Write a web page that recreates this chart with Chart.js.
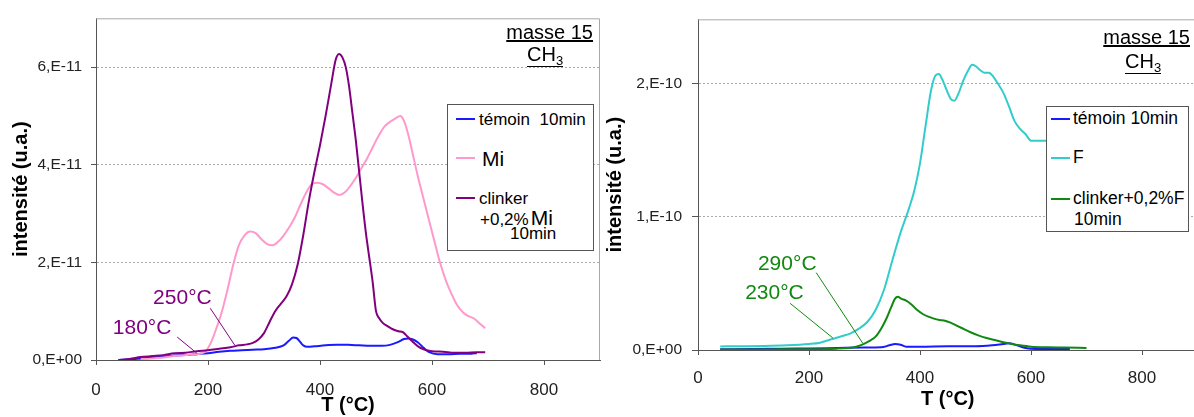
<!DOCTYPE html>
<html><head><meta charset="utf-8">
<script src="https://cdn.jsdelivr.net/npm/chart.js@4.4.1/dist/chart.umd.min.js"></script>
<style>
html,body{margin:0;padding:0;background:#fff;overflow:hidden;width:1194px;height:417px;}
#wrap{position:relative;width:1194px;height:417px;overflow:hidden;font-family:"Liberation Sans",Arial,sans-serif;}
canvas{position:absolute;top:0;}
.t{position:absolute;white-space:nowrap;color:#000;}
.lg{position:absolute;border:1px solid #555;background:#fff;box-sizing:border-box;}
.smp{position:absolute;height:2px;width:19px;}
.ul{border-bottom:1.5px solid #000;padding-bottom:1px;}
</style></head><body>
<div id="wrap">
<canvas id="c1" width="602" height="417" style="left:0px"></canvas>
<canvas id="c2" width="604" height="417" style="left:602px"></canvas>
</div>
<script>
// ---------- DATA (left chart, values in 1e-11) ----------
const leftXTicks = [0, 200, 400, 600, 800];
const leftYTicks = [0, 2, 4, 6];
const leftYTickLabels = ['0,E+00', '2,E-11', '4,E-11', '6,E-11'];
const leftSeriesNames = ['témoin 10min', 'Mi', 'clinker +0,2% Mi 10min'];

const tTemoinL = [40,60,80,100,120,140,160,180,200,220,240,260,280,300,320,335,345,352,358,364,370,378,390,410,430,450,470,490,510,525,540,550,558,566,575,585,595,610,630,650,670,680];
const vTemoinL = [0.0,0.01,0.03,0.05,0.07,0.09,0.1,0.12,0.14,0.17,0.19,0.2,0.21,0.22,0.25,0.3,0.4,0.46,0.45,0.38,0.3,0.27,0.28,0.3,0.31,0.31,0.3,0.29,0.29,0.31,0.37,0.43,0.44,0.42,0.36,0.25,0.16,0.12,0.12,0.13,0.13,0.14];

const tMi = [80,100,120,140,160,180,195,205,215,225,235,245,255,265,275,285,295,305,315,325,335,345,355,365,375,385,395,405,415,425,435,445,455,465,475,485,495,505,515,525,535,543,550,558,566,575,585,595,605,615,625,635,645,655,665,675,685,695];
const vMi = [0.02,0.03,0.05,0.08,0.1,0.12,0.17,0.35,0.65,1.0,1.45,1.95,2.35,2.55,2.63,2.6,2.48,2.38,2.35,2.42,2.55,2.72,2.92,3.18,3.42,3.6,3.63,3.6,3.52,3.43,3.38,3.44,3.58,3.75,3.95,4.15,4.38,4.6,4.78,4.88,4.95,5.0,4.9,4.6,4.2,3.75,3.3,2.85,2.4,1.97,1.62,1.35,1.12,0.98,0.9,0.85,0.75,0.65];

const tClinkerMi = [40,60,80,100,120,140,160,180,200,220,240,255,270,280,290,300,310,320,330,340,350,360,370,380,390,400,410,420,428,434,440,446,452,458,464,470,476,482,488,494,500,506,512,520,530,540,548,556,565,575,585,600,620,640,660,680,695];
const vClinkerMi = [0.0,0.02,0.06,0.08,0.1,0.14,0.15,0.18,0.2,0.23,0.26,0.3,0.32,0.35,0.42,0.55,0.78,1.0,1.15,1.3,1.55,1.95,2.55,3.25,3.85,4.4,5.0,5.65,6.15,6.27,6.2,6.0,5.6,5.05,4.5,3.85,3.2,2.6,2.1,1.6,1.0,0.85,0.76,0.7,0.63,0.59,0.57,0.48,0.38,0.28,0.22,0.18,0.17,0.15,0.15,0.16,0.16];

// ---------- DATA (right chart, values in 1e-10) ----------
const rightXTicks = [0, 200, 400, 600, 800];
const rightYTicks = [0, 1, 2];
const rightYTickLabels = ['0,E+00', '1,E-10', '2,E-10'];
const rightSeriesNames = ['témoin 10min', 'F', 'clinker+0,2%F 10min'];

const tTemoinR = [40,100,150,200,250,300,330,345,355,365,375,400,450,500,530,550,560,575,590,610,640,670];
const vTemoinR = [0.005,0.007,0.01,0.012,0.015,0.018,0.02,0.035,0.045,0.04,0.025,0.025,0.028,0.028,0.035,0.045,0.05,0.035,0.015,0.008,0.008,0.008];

const tF = [40,80,120,160,200,220,240,260,275,290,305,320,335,350,365,380,390,400,410,420,428,434,440,448,456,462,470,478,486,494,500,508,516,524,532,540,550,560,570,580,590,600,615,630,650,680,700];
const vF = [0.027,0.028,0.03,0.035,0.045,0.055,0.08,0.105,0.125,0.16,0.21,0.3,0.45,0.67,0.88,1.06,1.2,1.4,1.68,1.95,2.06,2.07,2.03,1.95,1.88,1.87,1.93,2.02,2.09,2.14,2.13,2.1,2.08,2.08,2.05,2.0,1.93,1.83,1.72,1.66,1.62,1.57,1.57,1.57,1.55,1.52,1.5];

const tClinkerF = [40,100,150,200,250,270,285,298,310,320,330,340,348,355,360,366,375,385,395,405,415,425,435,445,455,465,475,490,505,520,535,550,565,580,600,630,660,700];
const vClinkerF = [0.003,0.004,0.005,0.006,0.01,0.015,0.025,0.044,0.07,0.1,0.16,0.24,0.32,0.385,0.4,0.385,0.37,0.34,0.3,0.27,0.25,0.235,0.225,0.22,0.205,0.185,0.165,0.135,0.11,0.09,0.075,0.058,0.045,0.035,0.025,0.02,0.018,0.015];

// annotations (label text, label anchor [T,v], leader start [T,v], leader end [T,v])
const leftAnnotations = [
  {text:'250°C', at:[102,1.27], from:[204,1.06], to:[248,0.3]},
  {text:'180°C', at:[30,0.65], from:[145,0.47], to:[180,0.14]}
];
const rightAnnotations = [
  {text:'290°C', at:[108,0.647], from:[213,0.58], to:[297,0.05]},
  {text:'230°C', at:[85,0.424], from:[166,0.35], to:[243,0.09]}
];

// ---------- helpers ----------
const FONT = '"Liberation Sans", Arial, sans-serif';
function pts(T, V){ return T.map((t,i)=>({x:t, y:V[i]})); }

const framePlugin = {
  id:'frame',
  beforeDatasetsDraw(chart){
    const {ctx, chartArea:a} = chart;
    ctx.save();
    ctx.strokeStyle = '#a8a8a8'; ctx.lineWidth = 1;
    ctx.beginPath();
    ctx.moveTo(a.left, a.top+0.5); ctx.lineTo(a.right-0.5, a.top+0.5); ctx.lineTo(a.right-0.5, a.bottom);
    ctx.stroke();
    ctx.restore();
  }
};
const annoPlugin = {
  id:'anno',
  afterDatasetsDraw(chart, args, opts){
    const {ctx, scales:{x, y}} = chart;
    (opts.items||[]).forEach(a=>{
      ctx.save();
      ctx.strokeStyle = opts.color; ctx.lineWidth = 1;
      ctx.beginPath();
      ctx.moveTo(x.getPixelForValue(a.from[0]), y.getPixelForValue(a.from[1]));
      ctx.lineTo(x.getPixelForValue(a.to[0]), y.getPixelForValue(a.to[1]));
      ctx.stroke();
      ctx.font = '21px ' + FONT; ctx.fillStyle = opts.color;
      ctx.textBaseline = 'middle'; ctx.textAlign = 'left';
      ctx.fillText(a.text, x.getPixelForValue(a.at[0]), y.getPixelForValue(a.at[1]));
      ctx.restore();
    });
  }
};

function makeChart(id, cfg){
  return new Chart(document.getElementById(id), {
    type:'line',
    data:{datasets: cfg.datasets.map(d=>({
      label:d.label, data:d.data, borderColor:d.color, backgroundColor:d.color,
      borderWidth:d.w||2, pointRadius:0, cubicInterpolationMode:'monotone', order:d.order, fill:false
    }))},
    options:{
      responsive:false, animation:false, devicePixelRatio:1,
      layout:{padding:cfg.padding},
      plugins:{legend:{display:false}, tooltip:{enabled:false}, anno:{items:cfg.annotations, color:cfg.annoColor}},
      scales:{
        x:{type:'linear', min:0, max:900,
          afterBuildTicks:s=>{ s.ticks = cfg.xTicks.map(v=>({value:v})); },
          afterFit:s=>{ s.height = cfg.xHeight; },
          grid:{drawOnChartArea:false, drawTicks:true, tickLength:5, tickColor:'#555', color:'#555'},
          border:{display:true, color:'#555', width:1},
          ticks:{font:{family:FONT, size:17}, color:'#222', padding:cfg.xPad, maxRotation:0},
          title:{display:true, text:'T (°C)', font:{family:FONT, size:20, weight:'bold'}, color:'#000', padding:{top:0,bottom:cfg.xTitlePad}}
        },
        y:{type:'linear', min:0, max:cfg.yMax,
          afterBuildTicks:s=>{ s.ticks = cfg.yTicks.map(v=>({value:v})); },
          afterFit:s=>{ s.width = cfg.yWidth; },
          grid:{drawOnChartArea:true, drawTicks:true, tickLength:cfg.yTickLen, tickColor:'#555', color:'#aaa', tickBorderDash:[]},
          border:{display:true, color:'#555', width:1, dash:[2,2]},
          ticks:{font:{family:FONT, size:15.5}, color:'#222', padding:cfg.yPad,
            callback:(v)=>{ const i = cfg.yTicks.indexOf(v); return i>=0 ? cfg.yLabels[i] : ''; }},
          title:{display:true, text:'intensité (u.a.)', font:{family:FONT, size:20, weight:'bold'}, color:'#000', padding:{top:cfg.yTitlePad,bottom:0}}
        }
      }
    },
    plugins:[framePlugin, annoPlugin]
  });
}

makeChart('c1', {
  datasets:[
    {label:leftSeriesNames[0], data:pts(tTemoinL, vTemoinL), color:'#1a1aff', order:2},
    {label:leftSeriesNames[1], data:pts(tMi, vMi), color:'#ff99cc', order:1},
    {label:leftSeriesNames[2], data:pts(tClinkerMi, vClinkerMi), color:'#800080', order:0}
  ],
  padding:{left:0, top:16, right:2, bottom:0},
  xTicks:leftXTicks, yTicks:leftYTicks, yLabels:leftYTickLabels, yMax:7,
  xHeight:57, yWidth:96, xPad:15, yPad:9, yTickLen:5, xTitlePad:0, yTitlePad:9,
  annotations:leftAnnotations, annoColor:'#800080'
});
makeChart('c2', {
  datasets:[
    {label:rightSeriesNames[0], data:pts(tTemoinR, vTemoinR), color:'#1a1aff', order:2},
    {label:rightSeriesNames[1], data:pts(tF, vF), color:'#33cccc', order:1},
    {label:rightSeriesNames[2], data:pts(tClinkerF, vClinkerF), color:'#118811', order:0}
  ],
  padding:{left:0, top:15, right:8.5, bottom:0},
  xTicks:rightXTicks, yTicks:rightYTicks, yLabels:rightYTickLabels, yMax:2.48,
  xHeight:67, yWidth:96, xPad:13, yPad:10, yTickLen:6, xTitlePad:6, yTitlePad:1,
  annotations:rightAnnotations, annoColor:'#118811'
});

// ---------- HTML text overlays (legends, mass labels) ----------
const wrap = document.getElementById('wrap');
function txt(html, x, yc, size, opts={}){
  const d = document.createElement('div');
  d.className = 't';
  d.innerHTML = html;
  d.style.fontSize = size + 'px';
  d.style.lineHeight = size + 'px';
  d.style.top = (yc - size/2) + 'px';
  if (opts.right !== undefined) d.style.right = opts.right + 'px'; else d.style.left = x + 'px';
  if (opts.style) Object.assign(d.style, opts.style);
  (opts.parent||wrap).appendChild(d);
  return d;
}
function legendBox(x, y, w, h, items){
  const b = document.createElement('div');
  b.className = 'lg';
  Object.assign(b.style, {left:x+'px', top:y+'px', width:w+'px', height:h+'px'});
  wrap.appendChild(b);
  items.forEach(it=>{
    const s = document.createElement('div');
    s.className = 'smp';
    Object.assign(s.style, {left:it.sx+'px', top:(it.sy-1)+'px', background:it.color});
    b.appendChild(s);
    it.lines.forEach(l=>txt(l.h, l.x, l.y, l.s, {parent:b}));
  });
}
legendBox(447, 104, 147, 147, [
  {sx:8, sy:14, color:'#1a1aff', lines:[{h:'témoin&nbsp; 10min', x:31, y:14, s:17}]},
  {sx:8, sy:53, color:'#ff99cc', lines:[{h:'Mi', x:34, y:53, s:21}]},
  {sx:8, sy:93, color:'#800080', lines:[
    {h:'clinker', x:31, y:93, s:17},
    {h:'+0,2%<span style="font-size:21px;margin-left:2px">Mi</span>', x:32, y:112, s:17},
    {h:'10min', x:62, y:128, s:17}]}
]);
legendBox(1046, 106, 143, 126, [
  {sx:4, sy:12, color:'#1a1aff', lines:[{h:'témoin 10min', x:26, y:12, s:17.5}]},
  {sx:4, sy:51, color:'#33cccc', lines:[{h:'F', x:26, y:51, s:17.5}]},
  {sx:4, sy:92, color:'#118811', lines:[
    {h:'clinker+0,2%F', x:26, y:92, s:17.5},
    {h:'10min', x:27, y:113, s:17.5}]}
]);
// mass labels
txt('<u>masse 15</u>', 0, 32, 20, {right:1194-593});
txt('<span class="ul">CH<span style="font-size:13px;position:relative;top:4px">3</span></span>', 527, 54, 20);
txt('<u>masse 15</u>', 0, 37, 20, {right:1194-1190});
txt('<span class="ul">CH<span style="font-size:13px;position:relative;top:4px">3</span></span>', 1125, 61, 20);
</script>
</body></html>
